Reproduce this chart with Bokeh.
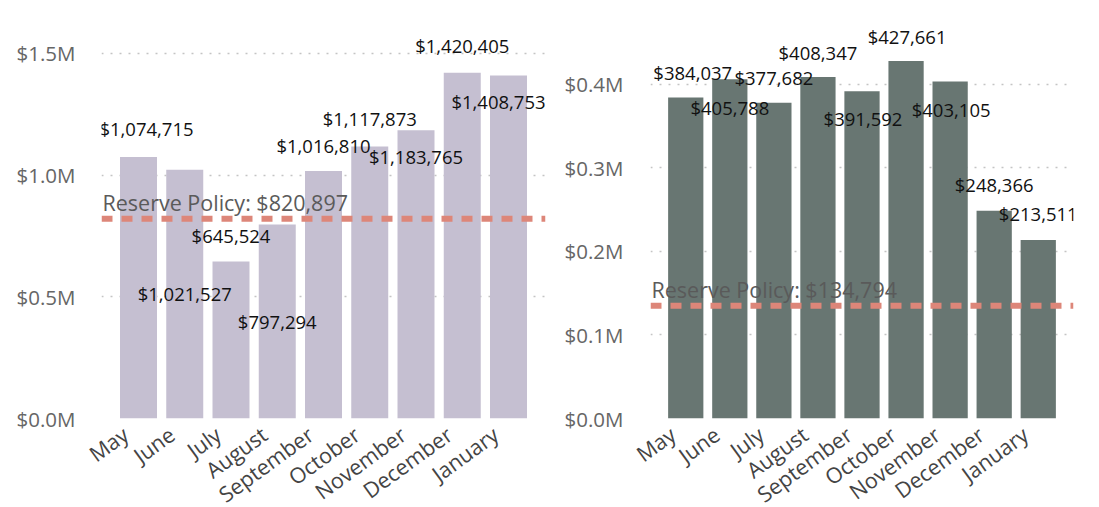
import math
from bokeh.plotting import figure
from bokeh.layouts import row
from bokeh.models import (Range1d, FixedTicker, CustomJSTickFormatter, Span,
                          ColumnDataSource, LinearAxis, LinearScale)
from bokeh.core.properties import value
from bokeh.embed import file_html
from bokeh.resources import INLINE

# ---------------- data ----------------
months = ["May", "June", "July", "August", "September", "October", "November", "December", "January"]
left_values = [1074715, 1021527, 645524, 797294, 1016810, 1117873, 1183765, 1420405, 1408753]
right_values = [384037, 405788, 377682, 408347, 391592, 427661, 403105, 248366, 213511]
left_reserve = 820897
right_reserve = 134794
left_ticks = [0, 500000, 1000000, 1500000]
right_ticks = [0, 100000, 200000, 300000, 400000]

# ---------------- layout / style ----------------
# data-label placement: pixel offsets from the top centre of each bar (screen y, + = down)
left_dx = [8, 0, 0, 0, 0, 0, 0, 0, -10]
left_dy = [-28, 124, -26, 97, -26, -28, 26, -27, 26]
right_dx = [7, 0, 0, 0, 1, 1, 1, 0, 0]
right_dy = [-25, 28, -25, -25, 27, -24, 28, -26, -27]

FONT = "Open Sans"
PAD = 0.3          # extra category units on each side of the bars
LABEL_SHIFT = 13   # px the rotated month labels sit left of the bar centre


def build(values, reserve, ticks, y_end, dx, dy, bar_color, frame_w, border_left, border_right, standoff):
    n = len(months)
    idx = list(range(n))                      # category slot of each month
    step = frame_w / (n + 2 * PAD)
    x0, x1 = -0.5 - PAD, n - 0.5 + PAD
    p = figure(
        x_range=Range1d(x0, x1),
        y_range=Range1d(0, y_end),
        frame_width=frame_w, frame_height=396,
        min_border_left=border_left, min_border_right=border_right,
        min_border_top=22, min_border_bottom=85,
        x_axis_location=None,
        output_backend="svg", toolbar_location=None,
    )
    p.outline_line_color = None
    p.background_fill_color = "white"
    p.border_fill_color = "white"

    src = ColumnDataSource(dict(
        x=idx, y=values, t=["${:,}".format(v) for v in values], dx=dx, dy=dy))

    p.vbar(x="x", top="y", width=0.8, color=bar_color, line_color=None, source=src)

    # reserve line
    p.add_layout(Span(location=reserve, dimension="width", line_color="#DD8679",
                      line_width=6, line_dash="11 9"))
    p.text(x=[x0], y=[reserve], text=["Reserve Policy: ${:,}".format(reserve)],
           x_offset=1, y_offset=-16,
           text_font=value(FONT), text_font_size="21.5px", text_color="#5A5A5A",
           text_align="left", text_baseline="alphabetic")

    # data labels
    p.text(x="x", y="y", text="t", x_offset="dx", y_offset="dy", source=src,
           text_font=value(FONT), text_font_size="18.5px", text_color="#111111",
           text_align="center", text_baseline="middle")

    # grid
    p.xgrid.grid_line_color = None
    p.ygrid.ticker = FixedTicker(ticks=ticks)
    p.ygrid.grid_line_color = "#C4C4C4"
    p.ygrid.grid_line_dash = "2 7"
    p.ygrid.grid_line_width = 1.5

    # y axis
    p.yaxis.ticker = FixedTicker(ticks=ticks)
    p.yaxis.formatter = CustomJSTickFormatter(code="return '$' + (tick/1e6).toFixed(1) + 'M';")
    p.yaxis.axis_line_color = None
    p.yaxis.major_tick_line_color = None
    p.yaxis.minor_tick_line_color = None
    p.yaxis.major_label_standoff = standoff
    p.yaxis.major_label_text_font = FONT
    p.yaxis.major_label_text_font_size = "20.5px"
    p.yaxis.major_label_text_color = "#666666"

    # month axis: same category slots, drawn slightly left of the bar centres
    d = LABEL_SHIFT / step
    p.extra_x_ranges = {"labels": Range1d(x0 + d, x1 + d)}
    p.extra_x_scales = {"labels": LinearScale()}
    xa = LinearAxis(x_range_name="labels",
                    ticker=FixedTicker(ticks=idx),
                    major_label_overrides={i: m for i, m in zip(idx, months)})
    xa.axis_line_color = None
    xa.major_tick_line_color = None
    xa.minor_tick_line_color = None
    xa.major_tick_out = 0
    xa.major_label_orientation = math.radians(36)
    xa.major_label_standoff = 13
    xa.major_label_text_font = FONT
    xa.major_label_text_font_size = "21.5px"
    xa.major_label_text_color = "#444444"
    p.add_layout(xa, "below")
    return p


p1 = build(left_values, left_reserve, left_ticks, 396 / 243.4 * 1e6, left_dx, left_dy,
           "#C5BFD1", 444, 101, 8, 20)
p2 = build(right_values, right_reserve, right_ticks, 396 / 836.0 * 1e6, right_dx, right_dy,
           "#687672", 423, 97, 10, 21)

layout = row(p1, p2)
open("out.html", "w").write(file_html(layout, INLINE))
